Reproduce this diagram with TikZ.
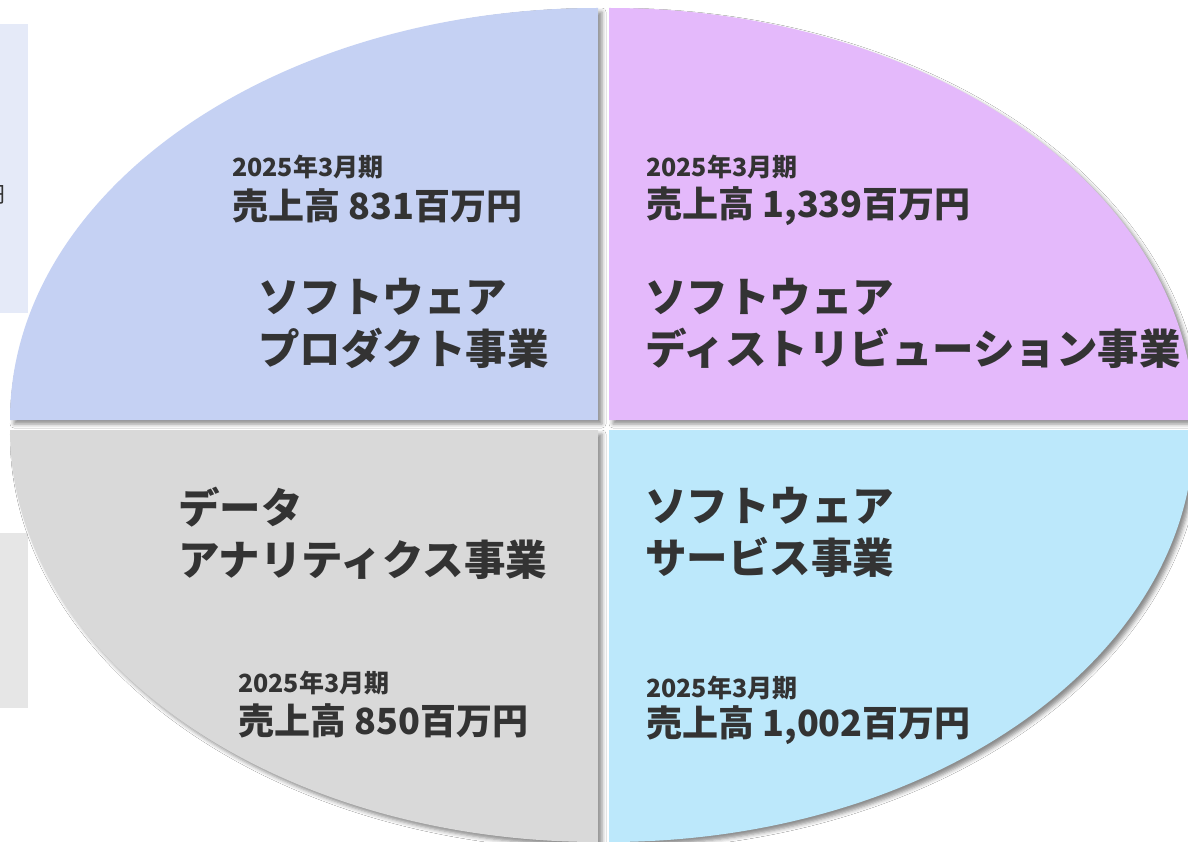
\documentclass[tikz,border=0pt]{standalone}
\usepackage{fontspec}
\newfontfamily\jp{Noto Sans CJK JP}
\usetikzlibrary{shadows.blur}
\definecolor{qtl}{HTML}{C5D1F3}
\definecolor{qtr}{HTML}{E4B9FB}
\definecolor{qbl}{HTML}{D9D9D9}
\definecolor{qbr}{HTML}{BCE8FB}
\definecolor{boxa}{HTML}{E5EAF8}
\definecolor{boxb}{HTML}{E6E6E6}
\definecolor{txt}{HTML}{333333}
\tikzset{
  quad/.style={draw=none, blur shadow={shadow xshift=4pt, shadow yshift=-4pt, shadow blur radius=4pt, shadow opacity=45}},
  small/.style={anchor=west, inner sep=0pt, text=txt, font=\jp\bfseries\fontsize{25}{28}\selectfont},
  sales/.style={anchor=west, inner sep=0pt, text=txt, font=\jp\bfseries\fontsize{36}{40}\selectfont},
  title/.style={anchor=west, inner sep=0pt, text=txt, align=left, font=\jp\bfseries\fontsize{41.5}{52}\selectfont},
}
\begin{document}
\begin{tikzpicture}[x=1pt,y=-1pt]
\useasboundingbox (0,0) rectangle (1188,842);
\fill[white] (0,0) rectangle (1188,842);
% left background boxes
\fill[boxa] (0,24) rectangle (28,313);
\fill[boxb] (0,533) rectangle (28,708);
\node[anchor=east, inner sep=0pt, text=txt, font=\jp\fontsize{22}{24}\selectfont] (yen) at (6,195) {円};
% quadrants
\path[quad, fill=qtl] (598,420) -- (10,420) arc[start angle=180, end angle=90, x radius=588, y radius=-412] -- cycle;
\path[quad, fill=qtr] (609,420) -- (609,8) arc[start angle=90, end angle=0, x radius=585, y radius=-412] -- cycle;
\path[quad, fill=qbl] (598,430) -- (598,842) arc[start angle=270, end angle=180, x radius=588, y radius=-412] -- cycle;
\path[quad, fill=qbr] (609,430) -- (1194,430) arc[start angle=0, end angle=-90, x radius=585, y radius=-412] -- cycle;
% texts top-left
\node[small] (tlp) at (232,167) {2025年3月期};
\node[sales] (tls) at (232,206) {売上高 831百万円};
\node[title] (tlt) at (258,323) {ソフトウェア\\プロダクト事業};
% top-right
\node[small] (trp) at (646,167) {2025年3月期};
\node[sales] (trs) at (646,206) {売上高 1,339百万円};
\node[title] (trt) at (645,323) {ソフトウェア\\ディストリビューション事業};
% bottom-left
\node[title] (blt) at (178,533) {データ\\アナリティクス事業};
\node[small] (blp) at (238,683) {2025年3月期};
\node[sales] (bls) at (238,721) {売上高 850百万円};
% bottom-right
\node[title] (brt) at (645,532) {ソフトウェア\\サービス事業};
\node[small] (brp) at (646,688) {2025年3月期};
\node[sales] (brs) at (646,725) {売上高 1,002百万円};
\end{tikzpicture}
\end{document}
